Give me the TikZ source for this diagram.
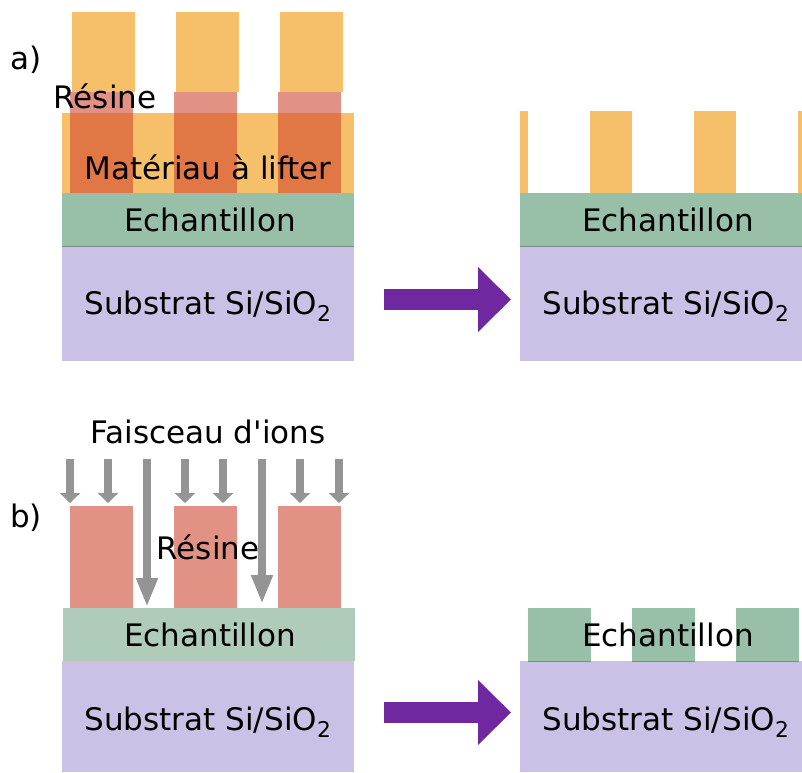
\documentclass[tikz,border=0pt]{standalone}
\usepackage{fontspec}
\setmainfont{DejaVu Sans}[Ligatures=TeXOff]
\usepackage{tikz}
\usetikzlibrary{arrows.meta,positioning}
\definecolor{Resist}{HTML}{E29284}
\definecolor{Metal}{HTML}{F6C06A}
\definecolor{MetalDark}{HTML}{E07744}
\definecolor{Sample}{HTML}{98C0A8}
\definecolor{SampleSoft}{HTML}{AECCB9}
\definecolor{Subst}{HTML}{CBC0E5}
\definecolor{Beam}{HTML}{949494}
\definecolor{Flow}{HTML}{7028A0}
\tikzset{
  layer/.style={inner sep=0pt, outer sep=0pt, minimum width=292pt},
  stepflow/.style={Flow, line width=21pt, -{Triangle[length=33pt, width=63pt]}},
  ion/.style={Beam, line width=8pt, -{Triangle[length=10pt, width=20pt]}},
  ionlong/.style={Beam, line width=8pt, -{Triangle[length=29pt, width=20pt]}},
  seam/.style={Sample!75!black, line width=0.7pt}
}
\begin{document}
\begin{tikzpicture}[x=1pt, y=-1pt, every node/.style={font=\fontsize{31}{37}\selectfont}]
  \useasboundingbox (0,0) rectangle (802,772);
  % a) left: before lift-off
  \node[layer, fill=Subst, minimum height=115pt] (subA) at (208,303.5) {};
  \node[layer, fill=Sample, minimum height=53pt, above=0pt of subA] (echA) {};
  \draw[seam] (echA.south west) -- (echA.south east);
  \node[layer, fill=Metal, minimum height=80pt, above=0pt of echA] (matA) {};
  \foreach \x in {70,174,278} {
    \fill[Resist] (\x,92) rectangle +(63,21);
    \fill[MetalDark] (\x,113) rectangle +(63,80);
    \fill[Metal] (\x+2,12) rectangle +(63,80);
  }
  \node (subAtxt) at (208,306) {Substrat Si/SiO\textsubscript{2}};
  \node (echAtxt) at (210,219.5) {Echantillon};
  \node (matAtxt) at (208,167) {Matériau à lifter};
  \node (resA) at (105,96) {Résine};
  \node (labA) at (26,60) {a)};
  % a) right: after lift-off
  \node[layer, fill=Subst, minimum width=282pt, minimum height=115pt] (subA2) at (661,303.5) {};
  \node[layer, fill=Sample, minimum width=282pt, minimum height=53pt, above=0pt of subA2] (echA2) {};
  \draw[seam] (echA2.south west) -- (echA2.south east);
  \foreach \x/\w in {520/8,590/42,694/42,798/4}
    \fill[Metal] (\x,111) rectangle +(\w,82);
  \node (subA2txt) at (666,306) {Substrat Si/SiO\textsubscript{2}};
  \node (echA2txt) at (668,219.5) {Echantillon};
  \draw[stepflow] ([xshift=30pt, yshift=4pt]subA.east) -- ([xshift=-9pt, yshift=4pt]subA2.west);

  % b) left: ion beam etching
  \node[layer, fill=Subst, minimum height=111pt] (subB) at (208,716.5) {};
  \node[layer, fill=SampleSoft, minimum height=53pt, above=0pt of subB, xshift=1pt] (echB) {};
  \foreach \x in {70,174,278}
    \fill[Resist] (\x,506) rectangle +(63,102);
  \node (subBtxt) at (208,722) {Substrat Si/SiO\textsubscript{2}};
  \node (echBtxt) at (210,634.5) {Echantillon};
  \node (resB) at (208,547) {Résine};
  \node (beam) at (208,432) {Faisceau d'ions};
  \foreach \x in {70,108,185,223,300,339}
    \draw[ion] (\x,459) -- (\x,503);
  \draw[ionlong] (147,459) -- (147,607);
  \draw[ionlong] (262,459) -- (262,604);
  \node (labB) at (26,518) {b)};
  % b) right: etched sample
  \node[layer, fill=Subst, minimum width=282pt, minimum height=111pt] (subB2) at (661,716.5) {};
  \foreach \x in {528,632,736} {
    \fill[Sample] (\x,608) rectangle +(63,53);
    \draw[seam] (\x,661) -- +(63,0);
  }
  \node (subB2txt) at (666,722) {Substrat Si/SiO\textsubscript{2}};
  \node (echB2) at (668,634.5) {Echantillon};
  \draw[stepflow] ([xshift=30pt, yshift=4pt]subB.east) -- ([xshift=-9pt, yshift=4pt]subB2.west);
\end{tikzpicture}
\end{document}
